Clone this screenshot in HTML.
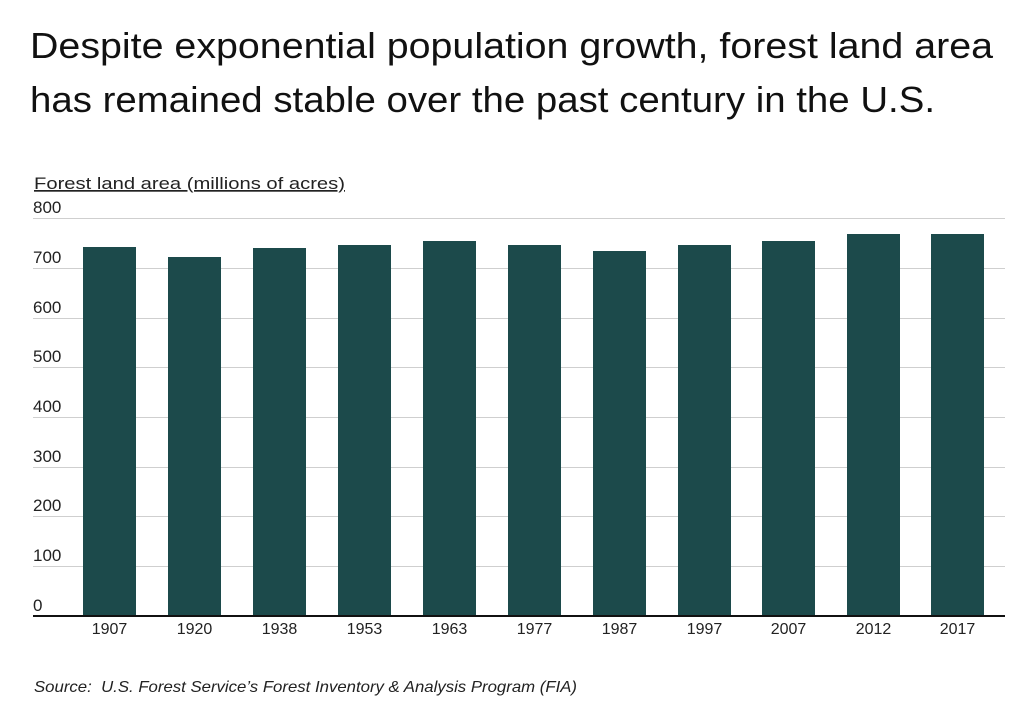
<!DOCTYPE html>
<html><head><meta charset="utf-8"><style>
body{margin:0;background:#fff;}
svg{display:block;font-family:"Liberation Sans",sans-serif;}
</style></head><body>
<svg width="1024" height="715" xmlns="http://www.w3.org/2000/svg">
<rect width="1024" height="715" fill="#fff"/>
<text x="30" y="58" font-size="36" fill="#111" textLength="963" lengthAdjust="spacingAndGlyphs">Despite exponential population growth, forest land area</text>
<text x="30" y="112" font-size="36" fill="#111" textLength="905" lengthAdjust="spacingAndGlyphs">has remained stable over the past century in the U.S.</text>
<text x="34" y="189" font-size="17" fill="#222" text-decoration="underline" textLength="311" lengthAdjust="spacingAndGlyphs">Forest land area (millions of acres)</text>
<g stroke="#cfcfcf" stroke-width="1">
<line x1="33" x2="1005" y1="218.5" y2="218.5"/>
<line x1="33" x2="1005" y1="268.5" y2="268.5"/>
<line x1="33" x2="1005" y1="318.5" y2="318.5"/>
<line x1="33" x2="1005" y1="367.5" y2="367.5"/>
<line x1="33" x2="1005" y1="417.5" y2="417.5"/>
<line x1="33" x2="1005" y1="467.5" y2="467.5"/>
<line x1="33" x2="1005" y1="516.5" y2="516.5"/>
<line x1="33" x2="1005" y1="566.5" y2="566.5"/>
</g>
<g font-size="17" fill="#222">
<text x="33" y="213">800</text>
<text x="33" y="263">700</text>
<text x="33" y="313">600</text>
<text x="33" y="362">500</text>
<text x="33" y="412">400</text>
<text x="33" y="462">300</text>
<text x="33" y="511">200</text>
<text x="33" y="561">100</text>
<text x="33" y="611">0</text>
</g>
<g fill="#1c4a4b">
<rect x="83" y="247" width="53" height="369"/>
<rect x="168" y="257" width="53" height="359"/>
<rect x="253" y="248" width="53" height="368"/>
<rect x="338" y="245" width="53" height="371"/>
<rect x="423" y="241" width="53" height="375"/>
<rect x="508" y="245" width="53" height="371"/>
<rect x="593" y="251" width="53" height="365"/>
<rect x="678" y="245" width="53" height="371"/>
<rect x="762" y="241" width="53" height="375"/>
<rect x="847" y="234" width="53" height="382"/>
<rect x="931" y="234" width="53" height="382"/>
</g>
<line x1="33" x2="1005" y1="616" y2="616" stroke="#111" stroke-width="2"/>
<g font-size="16" fill="#222" text-anchor="middle">
<text x="109.5" y="634">1907</text>
<text x="194.5" y="634">1920</text>
<text x="279.5" y="634">1938</text>
<text x="364.5" y="634">1953</text>
<text x="449.5" y="634">1963</text>
<text x="534.5" y="634">1977</text>
<text x="619.5" y="634">1987</text>
<text x="704.5" y="634">1997</text>
<text x="788.5" y="634">2007</text>
<text x="873.5" y="634">2012</text>
<text x="957.5" y="634">2017</text>
</g>
<text x="34" y="692" font-size="16" font-style="italic" fill="#222" xml:space="preserve" textLength="543" lengthAdjust="spacingAndGlyphs">Source:  U.S. Forest Service’s Forest Inventory &amp; Analysis Program (FIA)</text>
</svg>
</body></html>
